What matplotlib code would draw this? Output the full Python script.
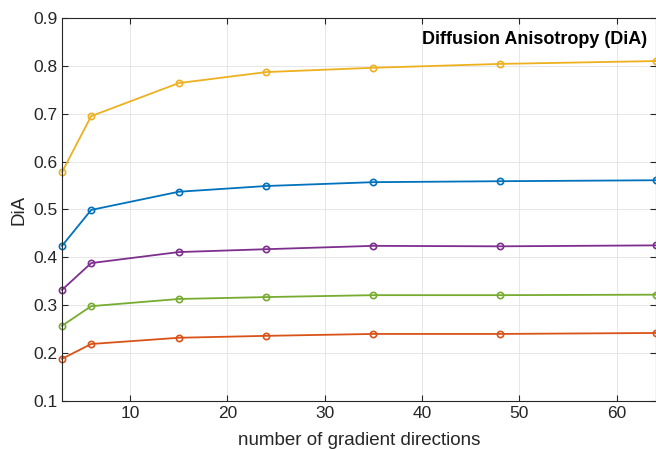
import numpy as np
import matplotlib.pyplot as plt

plt.rcParams['font.family'] = ['Liberation Sans', 'DejaVu Sans']

# number of gradient directions
directions = np.array([3, 6, 15, 24, 35, 48, 64])

# DiA values per curve
dia_yellow = [0.578, 0.695, 0.764, 0.787, 0.796, 0.804, 0.810]
dia_blue = [0.424, 0.499, 0.537, 0.549, 0.557, 0.559, 0.561]
dia_purple = [0.332, 0.388, 0.411, 0.417, 0.424, 0.423, 0.425]
dia_green = [0.257, 0.298, 0.313, 0.317, 0.321, 0.321, 0.322]
dia_orange = [0.188, 0.219, 0.232, 0.236, 0.240, 0.240, 0.242]

fig = plt.figure(figsize=(6.56, 4.49), dpi=100)
ax = fig.add_axes([0.0945, 0.107, 0.905, 0.853])

series = [
    (dia_blue, '#0072BD'),
    (dia_orange, '#D95319'),
    (dia_yellow, '#EDB120'),
    (dia_purple, '#7E2F8E'),
    (dia_green, '#77AC30'),
]
for vals, col in series:
    ax.plot(directions, vals, '-o', color=col, lw=1.3, ms=4.5,
            mfc='none', mew=1.2, clip_on=False)

ax.set_xlim(3, 64)
ax.set_ylim(0.1, 0.9)
ax.set_xticks([10, 20, 30, 40, 50, 60])
ax.set_yticks(np.arange(0.1, 0.91, 0.1))
ax.set_yticklabels(['%.1f' % v for v in np.arange(0.1, 0.91, 0.1)])
ax.grid(True, color='#e3e3e3', lw=0.6)
ax.set_axisbelow(True)
ax.tick_params(direction='in', top=True, right=True, labelsize=12.5,
               colors='#262626', length=4)
for s in ax.spines.values():
    s.set_color('#262626')
    s.set_linewidth(0.8)

ax.set_xlabel('number of gradient directions', fontsize=13.5, color='#262626',
              labelpad=8)
ax.set_ylabel('DiA', fontsize=13.5, color='#262626', labelpad=4)
ax.text(0.985, 0.945, 'Diffusion Anisotropy (DiA)', transform=ax.transAxes,
        ha='right', va='center', fontsize=13, fontweight='bold')

fig.savefig('out.png', dpi=100)
